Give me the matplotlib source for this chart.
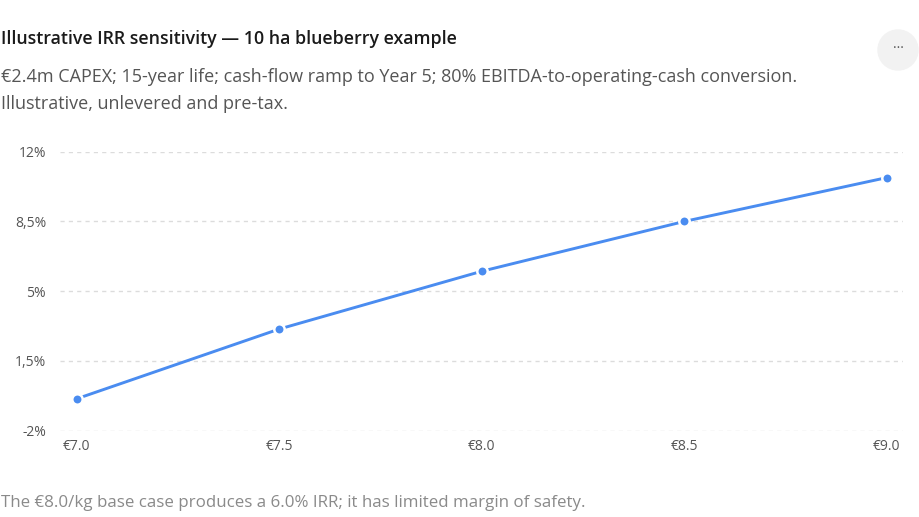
import matplotlib
matplotlib.use("Agg")
import matplotlib.pyplot as plt
from matplotlib.patches import Circle

prices = [7.0, 7.5, 8.0, 8.5, 9.0]
price_labels = ["€7.0", "€7.5", "€8.0", "€8.5", "€9.0"]
irr = [-0.4, 3.1, 6.0, 8.5, 10.7]
y_ticks = [-2, 1.5, 5, 8.5, 12]
y_tick_labels = ["-2%", "1,5%", "5%", "8,5%", "12%"]

plt.rcParams['font.family'] = ['Open Sans', 'DejaVu Sans']

fig = plt.figure(figsize=(9.2, 5.17), dpi=100)
fig.patch.set_facecolor("white")
W, H = 920, 517

ax = fig.add_axes([60 / W, 1 - 430.7 / H, (903 - 60) / W, (430.7 - 151.7) / H])
ax.set_facecolor("none")
ax.plot(prices, irr, color="#4a8cf0", lw=2.1, marker="o", ms=7.5,
        markerfacecolor="#4a8cf0", markeredgecolor="white", markeredgewidth=1.8,
        solid_capstyle="round", zorder=3, clip_on=False)
ax.set_ylim(-2, 12)
ax.set_xlim(6.959, 9.04)
ax.set_yticks(y_ticks)
ax.set_yticklabels(y_tick_labels, color="#555555", fontsize=10)
ax.set_xticks(prices)
ax.set_xticklabels(price_labels, color="#555555", fontsize=10)
ax.tick_params(axis="y", length=0, pad=10)
ax.tick_params(axis="x", length=0, pad=6)
for yv in y_ticks:
    ax.axhline(yv, color="#dcdcdc", lw=1, ls=(0, (3, 3)), zorder=1)
for s in ax.spines.values():
    s.set_visible(False)

fig.text(1 / W, 1 - 39 / H, "Illustrative IRR sensitivity — 10 ha blueberry example",
         fontsize=12.8, fontweight="semibold", color="#1a1a1a", va="center", ha="left")
fig.text(1 / W, 1 - 77 / H,
         "€2.4m CAPEX; 15-year life; cash-flow ramp to Year 5; 80% EBITDA-to-operating-cash conversion.",
         fontsize=13, color="#555555", va="center", ha="left")
fig.text(1 / W, 1 - 104 / H, "Illustrative, unlevered and pre-tax.",
         fontsize=13, color="#555555", va="center", ha="left")
fig.text(1 / W, 1 - 503 / H,
         "The €8.0/kg base case produces a 6.0% IRR; it has limited margin of safety.",
         fontsize=12.2, color="#8a8a8a", va="center", ha="left")

# menu button
bx = fig.add_axes([0, 0, 1, 1], facecolor="none")
bx.set_xlim(0, W); bx.set_ylim(H, 0); bx.axis("off")
bx.add_patch(Circle((898, 50), 20, color="#f2f2f2", zorder=0))
bx.text(898, 48, "···", ha="center", va="center", fontsize=10, color="#555555")

fig.savefig("out.png", dpi=100)
